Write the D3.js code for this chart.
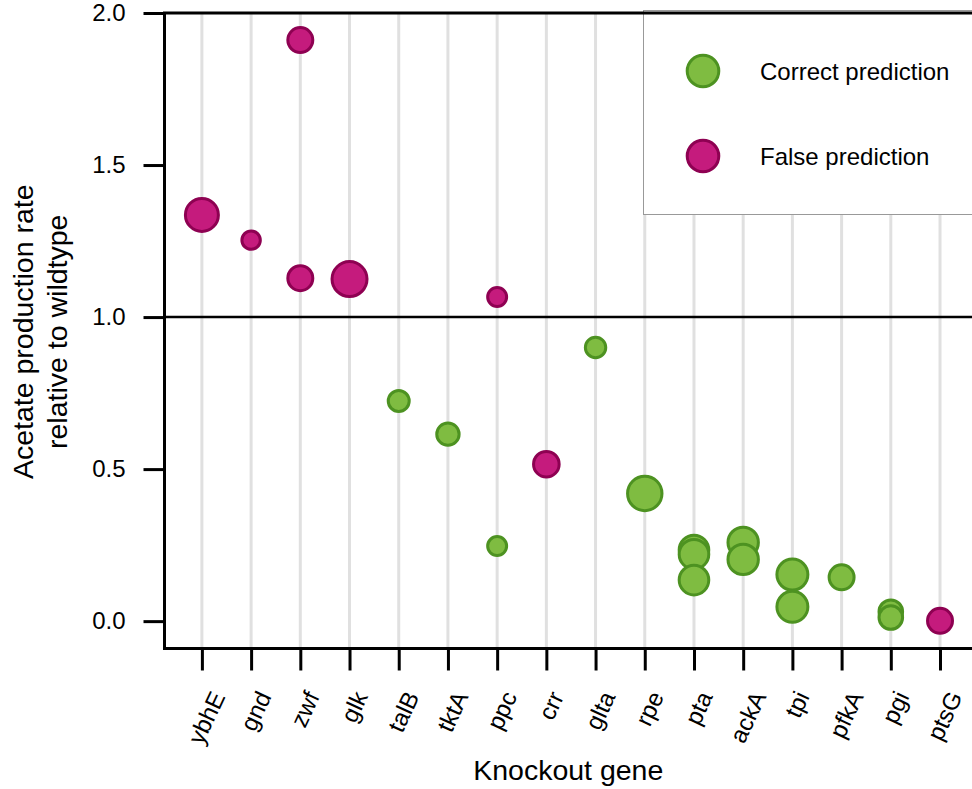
<!DOCTYPE html>
<html>
<head>
<meta charset="utf-8">
<script src="https://cdn.jsdelivr.net/npm/d3@7"></script>
<style>
  body { margin: 0; background: #fff; }
  svg { display: block; font-family: "Liberation Sans", Arial, sans-serif; }
</style>
</head>
<body>
<svg id="chart" width="972" height="789"></svg>
<script>
const genes = ["ybhE", "gnd", "zwf", "glk", "talB", "tktA", "ppc", "crr", "glta", "rpe", "pta", "ackA", "tpi", "pfkA", "pgi", "ptsG"];

// one entry per knockout measurement
const pointGene = ["ybhE", "gnd", "zwf", "zwf", "glk", "talB", "tktA", "ppc", "ppc", "crr", "glta", "rpe", "pta", "pta", "pta", "ackA", "ackA", "tpi", "tpi", "pfkA", "pgi", "pgi", "ptsG"];
const pointRate = [1.336, 1.253, 1.911, 1.128, 1.125, 0.724, 0.615, 1.066, 0.247, 0.516, 0.900, 0.420, 0.234, 0.220, 0.135, 0.259, 0.203, 0.153, 0.047, 0.144, 0.031, 0.012, 0.001];
const pointSize = [272, 85, 156, 156, 306, 110, 125, 90, 90, 164, 104, 296, 219, 219, 219, 231, 231, 240, 240, 156, 139, 139, 156];
const pointCorrect = [false, false, false, false, false, true, true, false, true, false, true, true, true, true, true, true, true, true, true, true, true, true, false];

const yTicks = [0.0, 0.5, 1.0, 1.5, 2.0];
const legendLabels = ["Correct prediction", "False prediction"];

const colors = {
  true: { fill: "#7fbc41", stroke: "#4d9221" },
  false: { fill: "#c51b7d", stroke: "#8e0152" }
};

const svg = d3.select("#chart");
const pLeft = 164.5, pRight = 972, pTop = 13, pBottom = 648.5;
const tickFont = 24, titleFont = 28.5;

const x = d3.scaleLinear().domain([-0.76, genes.length - 0.35]).range([pLeft, pRight]);
const y = d3.scaleLinear().domain([-0.09, 2.0]).range([pBottom, pTop]);
const r = d3.scaleSqrt().domain([0, 100]).range([0, 10]);

// light vertical guides per gene
svg.append("g")
  .selectAll("line")
  .data(genes)
  .join("line")
  .attr("x1", (d, i) => x(i))
  .attr("x2", (d, i) => x(i))
  .attr("y1", pTop)
  .attr("y2", pBottom)
  .attr("stroke", "#e0e0e0")
  .attr("stroke-width", 3);

// wildtype reference
svg.append("line")
  .attr("x1", pLeft).attr("x2", pRight)
  .attr("y1", y(1)).attr("y2", y(1))
  .attr("stroke", "#000")
  .attr("stroke-width", 2.5);

const pts = pointGene.map((g, i) => ({ gene: g, rate: pointRate[i], size: pointSize[i], ok: pointCorrect[i] }));

svg.append("g")
  .selectAll("circle")
  .data(pts)
  .join("circle")
  .attr("cx", d => x(genes.indexOf(d.gene)))
  .attr("cy", d => y(d.rate))
  .attr("r", d => r(d.size))
  .attr("fill", d => colors[d.ok].fill)
  .attr("stroke", d => colors[d.ok].stroke)
  .attr("stroke-width", 3);

// legend
const lg = svg.append("g");
lg.append("rect")
  .attr("x", 643.5).attr("y", 10.5)
  .attr("width", 340).attr("height", 204)
  .attr("fill", "#fff")
  .attr("stroke", "#999")
  .attr("stroke-width", 1);
legendLabels.forEach((label, i) => {
  const ly = 71 + i * 85;
  lg.append("circle")
    .attr("cx", 703).attr("cy", ly).attr("r", 15.8)
    .attr("fill", colors[i === 0].fill)
    .attr("stroke", colors[i === 0].stroke)
    .attr("stroke-width", 3);
  lg.append("text")
    .attr("x", 760).attr("y", ly + 9)
    .attr("font-size", tickFont)
    .text(label);
});

// axes
const yAxis = svg.append("g")
  .attr("transform", `translate(${pLeft},0)`)
  .call(d3.axisLeft(y).tickValues(yTicks).tickFormat(d3.format(".1f")).tickSize(21).tickPadding(18));
const xAxis = svg.append("g")
  .attr("transform", `translate(0,${pBottom})`)
  .call(d3.axisBottom(x).tickValues(d3.range(genes.length)).tickFormat(i => genes[i]).tickSize(22));

[yAxis, xAxis].forEach(a => {
  a.select(".domain").remove();
  a.selectAll(".tick line").attr("stroke-width", 3);
  a.selectAll("text").attr("font-size", tickFont).attr("fill", "#000").attr("font-family", "Liberation Sans, Arial, sans-serif");
});

// rotated gene names, centred under their tick with the rotated box top at a fixed line
const ang = 65 * Math.PI / 180;
xAxis.selectAll(".tick text")
  .attr("text-anchor", "middle")
  .attr("dominant-baseline", "central")
  .attr("dy", null)
  .attr("x", 0).attr("y", 0)
  .attr("transform", function () {
    const w = this.getComputedTextLength();
    const h = tickFont * 0.85;
    const cy = 40 + (w * Math.sin(ang) + h * Math.cos(ang)) / 2;
    return `translate(4,${cy}) rotate(-65)`;
  });

// spines
svg.append("path")
  .attr("d", `M${pRight},${pTop}H${pLeft}V${pBottom}H${pRight}`)
  .attr("fill", "none")
  .attr("stroke", "#000")
  .attr("stroke-width", 3);

// titles
svg.append("text")
  .attr("x", (pLeft + pRight) / 2).attr("y", 780)
  .attr("text-anchor", "middle")
  .attr("font-size", titleFont)
  .text("Knockout gene");

const yt = svg.append("text")
  .attr("transform", `translate(0,${(pTop + pBottom) / 2 + 1}) rotate(-90)`)
  .attr("text-anchor", "middle")
  .attr("font-size", titleFont);
yt.append("tspan").attr("x", 0).attr("y", 33).text("Acetate production rate");
yt.append("tspan").attr("x", 0).attr("y", 67).text("relative to wildtype");
</script>
</body>
</html>
